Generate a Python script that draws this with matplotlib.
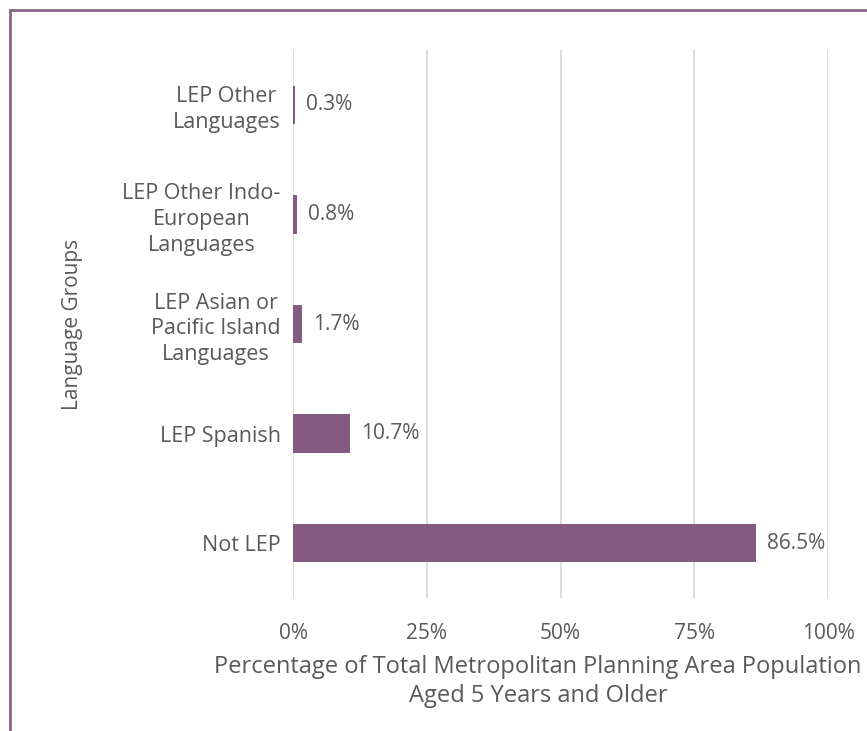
import matplotlib
matplotlib.use("Agg")
import matplotlib.pyplot as plt
from matplotlib.patches import Rectangle

# language groups, bottom to top
groups = ["Not LEP", "LEP Spanish", "LEP Asian or\nPacific Island\nLanguages",
          "LEP Other Indo-\nEuropean\nLanguages", "LEP Other\nLanguages"]
shares = [86.5, 10.7, 1.7, 0.8, 0.3]
xticks = [0, 25, 50, 75, 100]
xtick_labels = ["0%", "25%", "50%", "75%", "100%"]

bar_color = "#845A82"
text_color = "#595959"
grid_color = "#D9D9D9"

plt.rcParams["font.family"] = ["Open Sans", "DejaVu Sans"]

W, H = 867, 731
fig = plt.figure(figsize=(W / 100, H / 100), dpi=100)
ax = fig.add_axes([293 / W, 1 - 598 / H, (828 - 293) / W, (598 - 50) / H])

y = list(range(len(groups)))
ax.barh(y, shares, height=0.35, color=bar_color, zorder=3)
ax.set_ylim(-0.5, len(groups) - 0.5)
ax.set_xlim(0, 100)

for yi, v in zip(y, shares):
    ax.annotate(f"{v}%", (v, yi), xytext=(8, 0), textcoords="offset points",
                va="center", ha="left", fontsize=15, color=text_color)

ax.set_xticks(xticks)
ax.set_xticklabels(xtick_labels, fontsize=15, color=text_color)
ax.set_yticks(y)
ax.set_yticklabels(groups, fontsize=15.5, color=text_color)
for lbl in ax.get_yticklabels():
    lbl.set_multialignment("center")
    lbl.set_linespacing(1.3)
ax.tick_params(axis="both", length=0)
ax.tick_params(axis="x", pad=18)
ax.tick_params(axis="y", pad=9)

ax.grid(axis="x", color=grid_color, linewidth=1.3, zorder=0)
for s in ax.spines.values():
    s.set_visible(False)

ax.set_xlabel("Percentage of Total Metropolitan Planning Area Population\nAged 5 Years and Older",
              fontsize=17, color=text_color, linespacing=1.3)
ax.xaxis.set_label_coords((538 - 293) / (828 - 293), -(708 - 598) / (598 - 50))
ax.xaxis.label.set_va("bottom")
ax.set_ylabel("Language Groups", fontsize=15, color=text_color)
ax.yaxis.set_label_coords(-(293 - 83) / (828 - 293), 0.5)

# frame around the chart area
fig.patches.append(Rectangle((9.5 / W, -0.1), 1.2, 1 - 9.5 / H + 0.1,
                             transform=fig.transFigure, fill=False,
                             edgecolor="#8B6589", linewidth=2))

fig.savefig("out.png", dpi=100)
